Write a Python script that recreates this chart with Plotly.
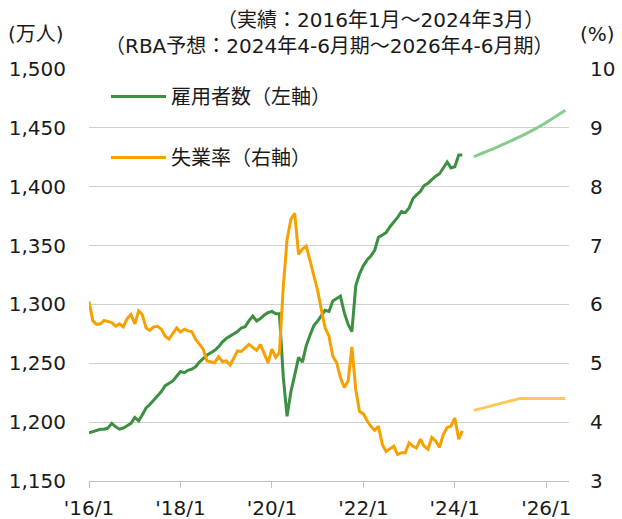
import plotly.graph_objects as go
import pandas as pd

# ---- data ----
months = pd.date_range("2016-01-01", "2024-03-01", freq="MS")

employment = [  # 万人, monthly 2016/1 - 2024/3
    1191, 1192, 1193, 1194, 1194, 1195, 1199, 1196, 1194, 1195, 1197, 1199,
    1204, 1201, 1206, 1212, 1215, 1219, 1222, 1226, 1231, 1233, 1235, 1239,
    1243, 1242, 1244, 1245, 1247, 1251, 1254, 1257, 1259, 1261, 1264, 1268,
    1271, 1273, 1275, 1277, 1280, 1281, 1286, 1290, 1286, 1288, 1291, 1293,
    1294, 1292, 1292, 1238, 1205, 1226, 1240, 1255, 1251, 1265, 1274, 1282,
    1286, 1291, 1295, 1294, 1303, 1305, 1307, 1293, 1283, 1277, 1316, 1326,
    1333, 1338, 1341, 1346, 1357, 1359, 1361, 1366, 1370, 1374, 1379, 1378,
    1382, 1390, 1393, 1396, 1401, 1403, 1406, 1409, 1411, 1416, 1421, 1416,
    1417, 1427, 1427,
]

unemployment = [  # %, monthly 2016/1 - 2024/3
    6.05, 5.72, 5.66, 5.67, 5.73, 5.71, 5.69, 5.63, 5.67, 5.62, 5.76, 5.83,
    5.67, 5.89, 5.83, 5.60, 5.56, 5.62, 5.63, 5.58, 5.46, 5.41, 5.50, 5.60,
    5.53, 5.58, 5.55, 5.54, 5.41, 5.32, 5.24, 5.04, 5.02, 5.01, 5.11, 5.03,
    5.04, 4.97, 5.08, 5.21, 5.20, 5.26, 5.32, 5.27, 5.22, 5.32, 5.15, 5.01,
    5.24, 5.10, 5.18, 6.30, 7.10, 7.45, 7.55, 6.85, 6.94, 6.99, 6.74, 6.51,
    6.23, 5.89, 5.60, 5.46, 5.12, 5.01, 4.76, 4.59, 4.70, 5.28, 4.55, 4.18,
    4.14, 4.02, 3.93, 3.86, 3.93, 3.62, 3.50, 3.55, 3.59, 3.45, 3.48, 3.48,
    3.65, 3.59, 3.56, 3.71, 3.59, 3.54, 3.74, 3.68, 3.57, 3.79, 3.91, 3.93,
    4.07, 3.71, 3.85,
]

forecast_quarters = [
    "2024-06-01", "2024-09-01", "2024-12-01", "2025-03-01", "2025-06-01",
    "2025-09-01", "2025-12-01", "2026-03-01", "2026-06-01",
]
employment_fc = [1425.5, 1429.5, 1433.5, 1437.8, 1442.3, 1447.2, 1452.6, 1458.6, 1465]
unemployment_fc = [4.2, 4.25, 4.3, 4.35, 4.4, 4.4, 4.4, 4.4, 4.4]

x_tick_vals = ["2016-01-01", "2018-01-01", "2020-01-01",
               "2022-01-01", "2024-01-01", "2026-01-01"]
x_tick_text = ["'16/1", "'18/1", "'20/1", "'22/1", "'24/1", "'26/1"]

# ---- styling ----
FONT = "DejaVu Sans, Noto Sans CJK JP, sans-serif"
TXT = "#1a1a1a"
GREEN = "#3d8f41"
ORANGE = "#f6a100"
GREEN_FC = "#86cc8a"
ORANGE_FC = "#ffc75a"

W, H = 622, 519
ML, MR, MT, MB = 89, 53, 69, 38


def px_x(px):
    return (px - ML) / (W - ML - MR)


def px_y(py):
    return (H - MB - py) / (H - MT - MB)


fig = go.Figure()
fig.add_trace(go.Scatter(
    x=months, y=employment, name="雇用者数（左軸）", mode="lines",
    line=dict(color=GREEN, width=3), legendgroup="a", yaxis="y"))
fig.add_trace(go.Scatter(
    x=forecast_quarters, y=employment_fc, mode="lines", showlegend=False,
    line=dict(color=GREEN_FC, width=3, shape="spline", smoothing=0.6), yaxis="y"))
fig.add_trace(go.Scatter(
    x=months, y=unemployment, name="失業率（右軸）", mode="lines",
    line=dict(color=ORANGE, width=3), legendgroup="b", yaxis="y2"))
fig.add_trace(go.Scatter(
    x=forecast_quarters, y=unemployment_fc, mode="lines", showlegend=False,
    line=dict(color=ORANGE_FC, width=3), yaxis="y2"))

fig.update_layout(
    width=W, height=H,
    margin=dict(l=ML, r=MR, t=MT, b=MB, pad=0, autoexpand=False),
    paper_bgcolor="white", plot_bgcolor="white",
    font=dict(family=FONT, size=20, color=TXT),
    showlegend=True,
    legend=dict(
        x=px_x(106), y=px_y(77), xanchor="left", yanchor="top",
        bgcolor="rgba(0,0,0,0)", borderwidth=0,
        font=dict(family=FONT, size=20, color=TXT),
        traceorder="grouped", tracegroupgap=32, itemwidth=55,
    ),
    xaxis=dict(
        type="date", range=["2016-01-01", "2026-07-01"],
        tickvals=x_tick_vals, ticktext=x_tick_text,
        showgrid=False, zeroline=False,
        showline=True, linecolor="#bfbfbf", linewidth=1,
        ticks="outside", ticklen=6, tickcolor="#bfbfbf",
        ticklabelstandoff=3, automargin=False,
    ),
    yaxis=dict(
        range=[1150, 1500], dtick=50, tickformat=",",
        showgrid=True, gridcolor="#d0d0d0", gridwidth=1,
        zeroline=False, showline=False, ticks="",
        ticklabelstandoff=22, automargin=False,
    ),
    yaxis2=dict(
        range=[3, 10], dtick=1, overlaying="y", side="right",
        showgrid=False, zeroline=False, showline=False, ticks="",
        ticklabelstandoff=20, automargin=False,
    ),
)

annots = [
    dict(text="（実績：2016年1月～2024年3月）", x=px_x(380), y=px_y(20)),
    dict(text="（RBA予想：2024年4-6月期～2026年4-6月期）", x=px_x(329), y=px_y(46)),
    dict(text="(万人)", x=px_x(36), y=px_y(34)),
    dict(text="(%)", x=px_x(597), y=px_y(34)),
]
for a in annots:
    fig.add_annotation(
        xref="paper", yref="paper", showarrow=False,
        xanchor="center", yanchor="middle",
        font=dict(family=FONT, size=20, color=TXT), **a)

fig.write_html("out.html",
               config={"displayModeBar": False},
               post_script="document.body.style.margin='0px';"
                           "document.body.style.padding='0px';")
